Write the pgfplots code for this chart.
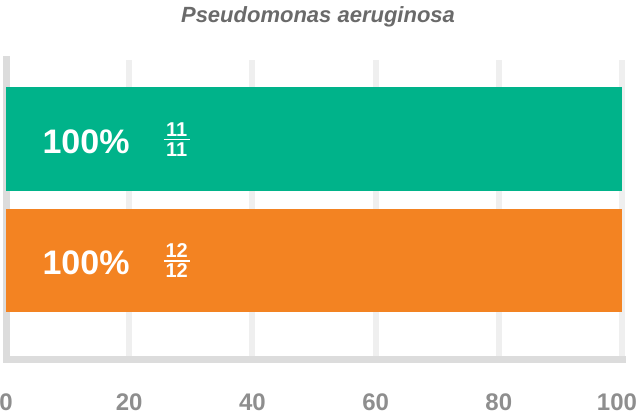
\documentclass[border=0pt]{standalone}
\usepackage{pgfplots}
\pgfplotsset{compat=1.18}
\usepackage{fontspec}
\setmainfont{Liberation Sans}
\definecolor{grn}{HTML}{00B38A}
\definecolor{org}{HTML}{F38322}
\definecolor{gridc}{HTML}{EFEFEF}
\definecolor{axc}{HTML}{DCDCDC}
\definecolor{tickc}{HTML}{8E8E8E}
\definecolor{titc}{HTML}{6A6A6A}
\pgfplotsset{
 layers/mylayers/.define layer set={axis background,axis grid,main,axis ticks,axis lines,axis tick labels,axis descriptions,axis foreground}{},
}
\begin{document}
\begin{tikzpicture}
\begin{axis}[
 set layers=mylayers,
 scale only axis, width=616pt, height=300pt,
 xmin=0, xmax=100, ymin=-0.82, ymax=1.65,
 axis lines=left,
 axis line style={-, draw=axc, line width=7pt, line cap=rect},
 xtick={0,20,40,60,80,100}, ytick=\empty,
 xticklabels={0,20,40,60,80,{\makebox[0pt]{100\hspace{10pt}}}},
 xmajorgrids, major grid style={draw=gridc, line width=6pt},
 major tick length=0pt,
 /pgf/number format/assume math mode=true,
 xticklabel style={anchor=base, inner sep=0pt, yshift=-50.5pt, font=\fontsize{24}{24}\selectfont\bfseries, text=tickc},
 title={Pseudomonas aeruginosa},
 title style={anchor=base, at={(0.5,1)}, yshift=31pt, xshift=4pt, inner sep=0pt, font=\fontsize{22}{22}\selectfont\bfseries\itshape, text=titc},
 clip=false,
]
\addplot[xbar, bar width=0.85, bar shift=0pt, fill=grn, draw=none] coordinates {(100,1)};
\addplot[xbar, bar width=0.85, bar shift=0pt, fill=org, draw=none] coordinates {(100,0)};
% labels
\node[anchor=base west, text=white, inner sep=0pt, font=\fontsize{34}{34}\selectfont\bfseries] at (axis cs:5.9,0.88) {100\%};
\node[anchor=base west, text=white, inner sep=0pt, font=\fontsize{34}{34}\selectfont\bfseries] at (axis cs:5.9,-0.115) {100\%};
\node[anchor=base, text=white, inner sep=0pt, font=\fontsize{20}{20}\selectfont\bfseries] at (axis cs:27.7,1.016) {11};
\draw[white, line width=1.8pt] (axis cs:25.6,0.995) -- (axis cs:29.8,0.995);
\node[anchor=base, text=white, inner sep=0pt, font=\fontsize{20}{20}\selectfont\bfseries] at (axis cs:27.7,0.852) {11};
\node[anchor=base, text=white, inner sep=0pt, font=\fontsize{20}{20}\selectfont\bfseries] at (axis cs:27.7,0.02) {12};
\draw[white, line width=1.8pt] (axis cs:25.6,-0.003) -- (axis cs:29.8,-0.003);
\node[anchor=base, text=white, inner sep=0pt, font=\fontsize{20}{20}\selectfont\bfseries] at (axis cs:27.7,-0.144) {12};
\end{axis}
\pgfresetboundingbox
\useasboundingbox (-6pt,-54pt) rectangle (630pt,360pt);
\end{tikzpicture}
\end{document}
